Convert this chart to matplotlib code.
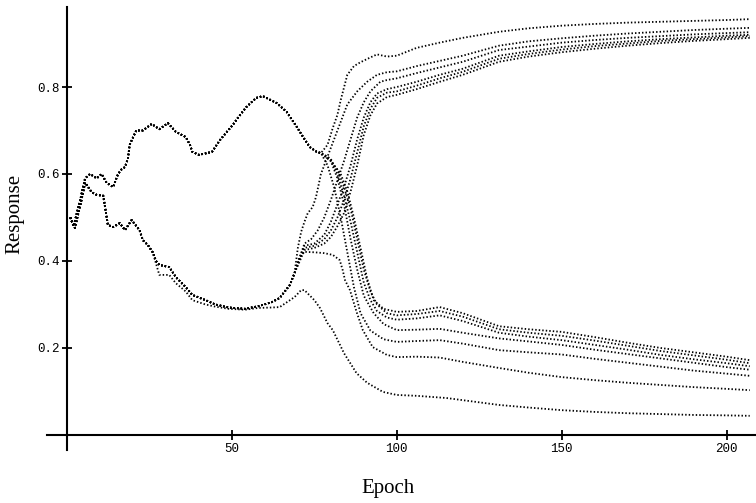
import matplotlib
matplotlib.use("Agg")
import matplotlib.pyplot as plt

# shared early paths
upper_epochs = [1, 2, 4, 5.5, 7, 9, 10.5, 12, 14, 15.5, 16.6, 17.6, 18.5, 19, 21, 23, 25.7, 28, 30.6, 33,
                36, 37.3, 38, 40, 42.4, 44, 46.4, 48.5, 50.3, 52, 54.4, 57.4, 59.4, 63.6, 66.6, 69.7, 71.6, 73.6, 75.7, 77]
upper_path = [0.50, 0.48, 0.54, 0.59, 0.60, 0.59, 0.60, 0.58, 0.57, 0.60, 0.611, 0.616, 0.636, 0.667, 0.70, 0.70, 0.715, 0.703, 0.717, 0.697,
              0.685, 0.667, 0.651, 0.644, 0.648, 0.651, 0.678, 0.697, 0.713, 0.731, 0.754, 0.775, 0.779, 0.763, 0.743, 0.708, 0.685, 0.662, 0.651, 0.648]

lower_epochs = [1, 2.4, 4.4, 5.5, 7.5, 9, 11, 12.4, 14, 16, 17.6, 19.6, 22, 23, 24.5, 26]
lower_path = [0.50, 0.476, 0.54, 0.58, 0.558, 0.552, 0.55, 0.483, 0.478, 0.487, 0.471, 0.494, 0.471, 0.448, 0.437, 0.42]

riser_epochs = [27, 28, 31, 33, 36, 38, 42, 45, 49, 54, 58, 62, 64.5, 67.6, 69]
riser_path = [0.40, 0.391, 0.386, 0.363, 0.34, 0.322, 0.31, 0.30, 0.293, 0.29, 0.296, 0.305, 0.315, 0.345, 0.372]

late_epochs = [100, 106, 113, 120, 131, 140, 150, 160, 170, 180, 190, 200, 207]

# bottom curve (peaks at epoch 72, then falls)
l1_epochs = [28, 31, 33, 36, 38, 42, 45, 49, 54, 58, 62, 64.5, 69, 71, 72, 75, 76.7, 79, 80.6, 84,
             87.8, 91, 95.8, 100, 106, 115, 125, 131, 140, 150, 160, 170, 180, 190, 200, 207]
l1 = [0.368, 0.368, 0.349, 0.33, 0.31, 0.30, 0.295, 0.29, 0.288, 0.292, 0.293, 0.294, 0.317, 0.333, 0.333, 0.31, 0.292, 0.257, 0.241, 0.188,
      0.142, 0.12, 0.099, 0.092, 0.09, 0.085, 0.075, 0.069, 0.063, 0.057, 0.053, 0.05, 0.048, 0.046, 0.045, 0.044]

# curves leaving the upper path
u1_epochs = [79, 80.6, 82, 83, 85, 87, 89, 92, 94, 97]
u1 = [0.667, 0.706, 0.736, 0.77, 0.828, 0.848, 0.857, 0.868, 0.875, 0.870]
u1_late = [0.872, 0.89, 0.902, 0.913, 0.927, 0.935, 0.941, 0.945, 0.948, 0.950, 0.952, 0.954, 0.956]

l3_epochs = [79, 81, 83, 85, 87, 89, 92, 96]
l3 = [0.62, 0.57, 0.50, 0.42, 0.34, 0.28, 0.24, 0.22]
l3_late = [0.214, 0.216, 0.218, 0.21, 0.195, 0.19, 0.185, 0.175, 0.166, 0.157, 0.148, 0.141, 0.136]

l4_epochs = [80, 82, 84, 86, 88, 90, 93, 96]
l4 = [0.63, 0.59, 0.53, 0.45, 0.38, 0.32, 0.28, 0.255]
l4_late = [0.241, 0.242, 0.244, 0.235, 0.222, 0.215, 0.207, 0.196, 0.186, 0.176, 0.166, 0.156, 0.15]

lb1_epochs = [79, 81, 83, 85, 87, 89, 91, 93, 96]
lb1 = [0.64, 0.62, 0.60, 0.56, 0.50, 0.43, 0.36, 0.31, 0.29]
lb1_late = [0.283, 0.285, 0.294, 0.28, 0.25, 0.243, 0.237, 0.225, 0.212, 0.2, 0.19, 0.18, 0.172]

lb_epochs = [80, 82, 84, 86, 88, 90, 92, 94, 97]
lb2 = [0.63, 0.61, 0.57, 0.52, 0.45, 0.38, 0.33, 0.30, 0.28]
lb2_late = [0.275, 0.278, 0.285, 0.272, 0.243, 0.235, 0.228, 0.217, 0.205, 0.193, 0.183, 0.173, 0.165]
lb3 = [0.635, 0.60, 0.55, 0.49, 0.42, 0.35, 0.31, 0.285, 0.27]
lb3_late = [0.265, 0.268, 0.275, 0.262, 0.235, 0.226, 0.218, 0.207, 0.196, 0.184, 0.174, 0.165, 0.158]

# curves leaving the rising lower path
u2_epochs = [70, 71, 72, 73, 74.5, 75.5, 76.3, 77, 79, 81, 83, 85, 88, 91, 94, 97]
u2 = [0.43, 0.467, 0.49, 0.51, 0.524, 0.547, 0.575, 0.60, 0.64, 0.68, 0.72, 0.76, 0.79, 0.812, 0.828, 0.834]
u2_late = [0.836, 0.848, 0.86, 0.872, 0.895, 0.905, 0.912, 0.918, 0.923, 0.927, 0.931, 0.934, 0.936]

u3_epochs = [70.6, 72, 74, 76, 78, 80, 82, 84, 86, 88, 90, 92, 95, 97]
u3 = [0.409, 0.44, 0.45, 0.47, 0.50, 0.54, 0.585, 0.63, 0.68, 0.73, 0.765, 0.79, 0.812, 0.816]
u3_late = [0.82, 0.832, 0.845, 0.858, 0.885, 0.893, 0.902, 0.908, 0.913, 0.917, 0.921, 0.924, 0.926]

ub_epochs = [70.6, 72, 75, 78, 80, 82, 84, 86, 88, 90, 92, 94, 97]
ub1 = [0.409, 0.435, 0.44, 0.46, 0.49, 0.53, 0.57, 0.62, 0.68, 0.73, 0.765, 0.785, 0.795]
ub1_late = [0.80, 0.812, 0.828, 0.842, 0.872, 0.882, 0.892, 0.899, 0.905, 0.91, 0.914, 0.918, 0.92]
ub2 = [0.405, 0.43, 0.435, 0.45, 0.47, 0.50, 0.54, 0.59, 0.65, 0.71, 0.75, 0.775, 0.787]
ub2_late = [0.79, 0.803, 0.82, 0.835, 0.865, 0.876, 0.886, 0.894, 0.9, 0.906, 0.91, 0.914, 0.917]
ub3 = [0.40, 0.425, 0.43, 0.44, 0.455, 0.48, 0.51, 0.56, 0.62, 0.69, 0.735, 0.762, 0.777]
ub3_late = [0.782, 0.795, 0.812, 0.828, 0.858, 0.87, 0.88, 0.888, 0.895, 0.901, 0.906, 0.91, 0.913]

l2_epochs = [70.6, 72, 75, 78, 80.6, 82.7, 83.6, 84.3, 85.8, 87.8, 89.7, 92.7, 97]
l2 = [0.409, 0.421, 0.42, 0.418, 0.414, 0.402, 0.379, 0.356, 0.333, 0.283, 0.241, 0.202, 0.184]
l2_late = [0.179, 0.18, 0.178, 0.168, 0.154, 0.143, 0.133, 0.126, 0.12, 0.115, 0.11, 0.106, 0.103]

fig = plt.figure(figsize=(7.56, 5.03), dpi=100)
ax = fig.add_axes([0.0624, 0.105, 0.938, 0.882])

dots = dict(color="black", lw=1.3, ls=(0, (0.8, 1.15)), dash_capstyle="butt")

# from the upper path
for ep, val, late in [(u1_epochs, u1, u1_late), (l3_epochs, l3, l3_late), (l4_epochs, l4, l4_late),
                      (lb1_epochs, lb1, lb1_late), (lb_epochs, lb2, lb2_late), (lb_epochs, lb3, lb3_late)]:
    ax.plot(upper_epochs + ep + late_epochs, upper_path + val + late, **dots)

# from the rising lower path
for ep, val, late in [(u2_epochs, u2, u2_late), (u3_epochs, u3, u3_late), (ub_epochs, ub1, ub1_late),
                      (ub_epochs, ub2, ub2_late), (ub_epochs, ub3, ub3_late), (l2_epochs, l2, l2_late)]:
    ax.plot(lower_epochs + riser_epochs + ep + late_epochs, lower_path + riser_path + val + late, **dots)

ax.plot(lower_epochs + l1_epochs, lower_path + l1, **dots)

ax.set_xlim(-6, 209)
ax.set_ylim(-0.035, 0.985)
ax.spines["left"].set_position(("data", 0))
ax.spines["bottom"].set_position(("data", 0))
ax.spines["right"].set_visible(False)
ax.spines["top"].set_visible(False)
ax.spines["left"].set_linewidth(1.5)
ax.spines["bottom"].set_linewidth(1.5)

ax.set_xticks([50, 100, 150, 200])
ax.set_yticks([0.2, 0.4, 0.6, 0.8])
ax.set_yticklabels(["0.2", "0.4", "0.6", "0.8"])
ax.tick_params(direction="inout", length=7, width=1.3, pad=2)
for lab in ax.get_xticklabels() + ax.get_yticklabels():
    lab.set_fontfamily("Liberation Mono")
    lab.set_fontsize(9)

fig.text(388 / 756, 1 - 488 / 503, "Epoch", family="Liberation Serif", fontsize=15, ha="center", va="center")
fig.text(15 / 756, 1 - 214 / 503, "Response", family="Liberation Serif", fontsize=15, rotation=90,
         ha="center", va="center")

fig.savefig("out.png", dpi=100)
